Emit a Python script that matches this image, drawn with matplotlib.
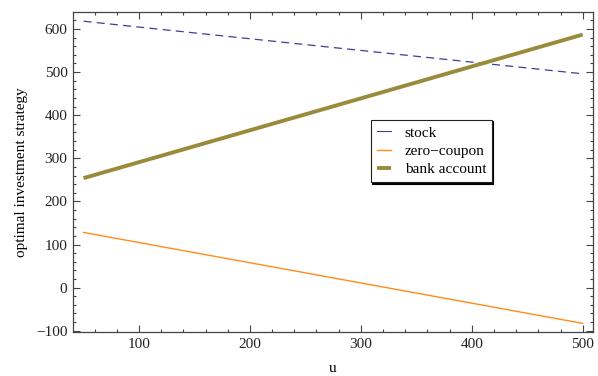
import matplotlib
matplotlib.use("Agg")
import matplotlib.pyplot as plt
from matplotlib.ticker import MultipleLocator
from matplotlib.lines import Line2D

u = [50, 500]
stock = [618, 496]
zero_coupon = [128, -83]
bank_account = [254, 587]

plt.rcParams['font.family'] = ['Liberation Serif', 'DejaVu Serif']
plt.rcParams['font.size'] = 11

c_stock, c_zero, c_bank = '#3d3d9e', '#ff8c1f', '#9a8a3c'

fig = plt.figure(figsize=(5.98, 3.76), dpi=100)
ax = fig.add_axes([73/598, 1-332/376, (593-73)/598, (332-12)/376])

ax.plot(u, stock, color=c_stock, lw=0.9, dashes=(6.4, 4.2))
ax.plot(u, zero_coupon, color=c_zero, lw=1.0)
ax.plot(u, bank_account, color=c_bank, lw=2.8, solid_capstyle='butt')

ax.set_xlim(40.5, 509.3)
ax.set_ylim(-103, 639.4)
ax.xaxis.set_major_locator(MultipleLocator(100))
ax.xaxis.set_minor_locator(MultipleLocator(20))
ax.yaxis.set_major_locator(MultipleLocator(100))
ax.yaxis.set_minor_locator(MultipleLocator(20))
ax.tick_params(which='both', direction='in', top=True, right=True, colors='#444444',
               labelcolor='#222222', width=0.8)
ax.tick_params(which='major', length=5, pad=4)
ax.tick_params(which='minor', length=2.5)
for s in ax.spines.values():
    s.set_color('#444444')
    s.set_linewidth(0.9)

ax.set_xlabel('u', labelpad=8)
ax.set_ylabel('optimal investment strategy', labelpad=6)

handles = [Line2D([], [], color=c_stock, lw=0.8),
           Line2D([], [], color=c_zero, lw=1.0),
           Line2D([], [], color=c_bank, lw=2.8, solid_capstyle='butt')]
labels = ['stock', 'zero\u2212coupon', 'bank account']
leg = ax.legend(handles, labels, loc='upper left',
                bbox_to_anchor=((371-73)/520, 1-(120-12)/320),
                frameon=True, fancybox=False, shadow={'color': 'black', 'alpha': 1, 'ox': 0.9, 'oy': -0.9},
                handlelength=0.9, handletextpad=0.9, borderpad=0.4, labelspacing=0.3,
                borderaxespad=0, fontsize=11)
leg.get_frame().set_edgecolor('#222222')
leg.get_frame().set_linewidth(0.8)

fig.savefig('out.png', dpi=100)
